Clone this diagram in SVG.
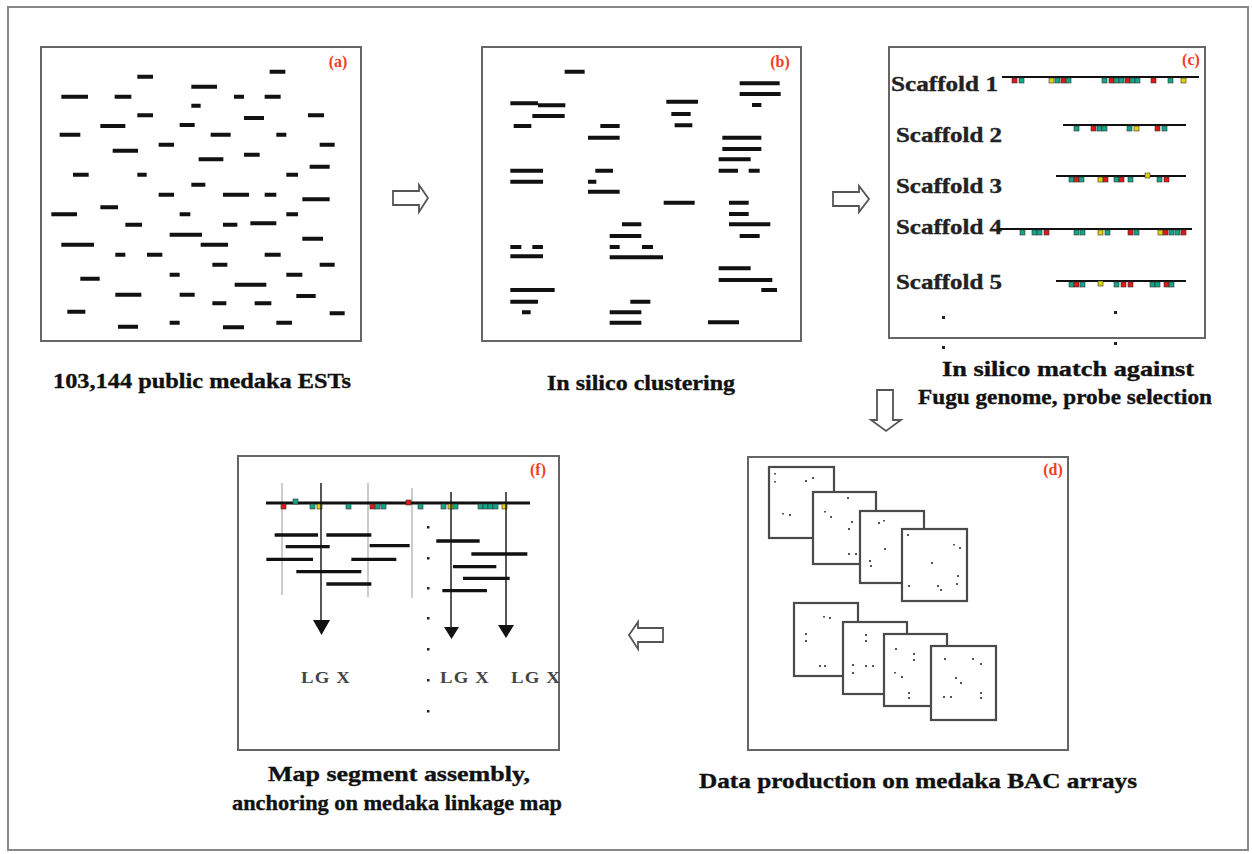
<svg xmlns="http://www.w3.org/2000/svg" xmlns:xlink="http://www.w3.org/1999/xlink" width="1252" height="854" viewBox="0 0 1252 854">
<style>
.frame{fill:#fff;stroke:#666;stroke-width:2}
.sheet{fill:#fff;stroke:#4a4a4a;stroke-width:2.2}
.bars{fill:none;stroke:#111;stroke-linecap:butt}
.lbl{font-family:"Liberation Serif",serif;font-weight:bold;font-size:16px;fill:#f2401e;text-anchor:middle}
.cap{font-family:"Liberation Serif",serif;font-weight:bold;font-size:21px;fill:#111;stroke:#111;stroke-width:0.35;text-anchor:middle}
.sc{font-family:"Liberation Serif",serif;font-weight:bold;font-size:20px;fill:#222;stroke:#222;stroke-width:0.35}
.lg{font-family:"Liberation Serif",serif;font-weight:bold;font-size:16px;fill:#444;text-anchor:middle;letter-spacing:1px}
.bk{fill:#fff;stroke:#555;stroke-width:1.8;stroke-linejoin:miter}
.r{fill:#e01818}.t{fill:#14a488}.y{fill:#e2d20a}
.dot{fill:#222}
.gl{stroke:#aaa;stroke-width:1.2}
</style>
<defs>
<rect id="m" width="5" height="5" stroke="#333" stroke-width="0.6"/>
</defs>
<rect x="0" y="0" width="1252" height="854" fill="#fff"/>
<rect x="8" y="7" width="1240" height="843" fill="none" stroke="#888" stroke-width="2"/>

<g id="panel-a">
<rect class="frame" x="41" y="47" width="320" height="294"/>
<g transform="translate(38,45) scale(0.33333)">
<path class="bars" stroke-width="12" d="M298 95H345M695 80H742M460 125H537M70 155H150M230 155H280M588 155H618M680 155H728M460 182H488M298 211H345M618 219H678M810 211H858M187 243H262M425 240H470M65 269H127M518 269H578M715 269H745M362 299H408M845 299H890M224 317H300M618 329H665M482 343H556M815 365H875M105 389H152M298 389H326M745 389H780M460 419H502M362 449H408M555 449H633M680 449H715M793 463H875M187 487H240M40 508H117M425 508H457M745 508H780M262 539H312M555 539H598M637 535H715M395 569H492M70 599H168M488 599H570M793 581H855M232 629H262M327 629H373M680 629H728M523 659H568M845 659H890M127 701H185M395 689H425M745 689H793M590 719H685M232 749H310M425 749H470M775 753H833M523 775H565M650 775H700M88 800H142M875 805H920M240 845H300M395 833H425M555 847H618M715 833H762"/>
</g>
<text class="lbl" x="338" y="67">(a)</text>
<text class="cap" x="202" y="388" textLength="298" lengthAdjust="spacingAndGlyphs">103,144 public medaka ESTs</text>
</g>

<g id="panel-b">
<rect class="frame" x="482" y="47" width="319" height="294"/>
<g transform="translate(478,45) scale(0.33333)">
<path class="bars" stroke-width="12" d="M260 80H320M785 115H905M785 147H908M822 180H850M97 175H180M180 181H262M163 213H260M107 243H160M565 170H660M580 207H638M590 241H643M367 243H425M330 278H425M733 278H850M733 312H850M722 343H818M722 377H780M812 377H845M97 377H195M97 410H195M352 377H405M330 410H355M330 440H425M557 473H650M753 473H812M753 507H812M753 538H877M785 573H845M432 538H490M395 573H490M97 606H130M163 606H195M97 634H195M395 606H425M492 606H525M395 637H555M722 670H818M722 705H883M850 735H897M97 735H230M97 770H180M132 802H158M457 770H517M395 802H490M395 833H490M690 832H783"/>
</g>
<text class="lbl" x="780" y="67">(b)</text>
<text class="cap" x="641" y="390" textLength="188" lengthAdjust="spacingAndGlyphs">In silico clustering</text>
</g>

<g id="panel-c">
<rect class="frame" x="889" y="47" width="316" height="291"/>
<text class="lbl" x="1191" y="65">(c)</text>
<text class="sc" x="891" y="91" textLength="107" lengthAdjust="spacingAndGlyphs">Scaffold 1</text>
<text class="sc" x="896" y="142" textLength="106" lengthAdjust="spacingAndGlyphs">Scaffold 2</text>
<text class="sc" x="896" y="193" textLength="106" lengthAdjust="spacingAndGlyphs">Scaffold 3</text>
<text class="sc" x="896" y="234" textLength="106" lengthAdjust="spacingAndGlyphs">Scaffold 4</text>
<text class="sc" x="896" y="289" textLength="106" lengthAdjust="spacingAndGlyphs">Scaffold 5</text>
<path stroke="#111" stroke-width="2" d="M1002 77H1199M1063 125H1186M1056 176H1186M998 229H1192M1056 281H1186"/>
<g>
<use href="#m" class="r" x="1012" y="78"/><use href="#m" class="t" x="1019" y="78"/><use href="#m" class="y" x="1049" y="78"/><use href="#m" class="t" x="1055" y="78"/><use href="#m" class="r" x="1061" y="78"/><use href="#m" class="t" x="1066" y="78"/><use href="#m" class="t" x="1102" y="78"/><use href="#m" class="r" x="1109" y="78"/><use href="#m" class="t" x="1114" y="78"/><use href="#m" class="t" x="1119" y="78"/><use href="#m" class="r" x="1125" y="78"/><use href="#m" class="t" x="1130" y="78"/><use href="#m" class="t" x="1135" y="78"/><use href="#m" class="r" x="1151" y="78"/><use href="#m" class="t" x="1168" y="78"/><use href="#m" class="y" x="1181" y="78"/>
<use href="#m" class="t" x="1074" y="126"/><use href="#m" class="r" x="1091" y="126"/><use href="#m" class="t" x="1097" y="126"/><use href="#m" class="t" x="1102" y="126"/><use href="#m" class="t" x="1127" y="126"/><use href="#m" class="y" x="1134" y="126"/><use href="#m" class="r" x="1155" y="126"/><use href="#m" class="t" x="1162" y="126"/>
<use href="#m" class="t" x="1069" y="177"/><use href="#m" class="r" x="1074" y="177"/><use href="#m" class="t" x="1079" y="177"/><use href="#m" class="y" x="1098" y="177"/><use href="#m" class="r" x="1103" y="177"/><use href="#m" class="t" x="1114" y="177"/><use href="#m" class="r" x="1119" y="177"/><use href="#m" class="t" x="1128" y="177"/><use href="#m" class="y" x="1145" y="173"/><use href="#m" class="t" x="1157" y="177"/><use href="#m" class="r" x="1164" y="177"/>
<use href="#m" class="t" x="1020" y="230"/><use href="#m" class="t" x="1032" y="230"/><use href="#m" class="t" x="1037" y="230"/><use href="#m" class="r" x="1044" y="230"/><use href="#m" class="t" x="1074" y="230"/><use href="#m" class="t" x="1080" y="230"/><use href="#m" class="y" x="1098" y="230"/><use href="#m" class="t" x="1105" y="230"/><use href="#m" class="r" x="1128" y="230"/><use href="#m" class="t" x="1134" y="230"/><use href="#m" class="y" x="1158" y="230"/><use href="#m" class="r" x="1163" y="230"/><use href="#m" class="t" x="1169" y="230"/><use href="#m" class="t" x="1175" y="230"/><use href="#m" class="r" x="1181" y="230"/>
<use href="#m" class="t" x="1069" y="282"/><use href="#m" class="r" x="1074" y="282"/><use href="#m" class="t" x="1080" y="282"/><use href="#m" class="y" x="1098" y="281"/><use href="#m" class="t" x="1114" y="282"/><use href="#m" class="r" x="1121" y="282"/><use href="#m" class="r" x="1128" y="282"/><use href="#m" class="t" x="1150" y="282"/><use href="#m" class="t" x="1155" y="282"/><use href="#m" class="r" x="1164" y="282"/><use href="#m" class="t" x="1169" y="282"/>
</g>
<rect class="dot" x="942" y="316" width="3" height="3"/><rect class="dot" x="1114" y="311" width="3" height="3"/>
<rect class="dot" x="942" y="346" width="3" height="3"/><rect class="dot" x="1114" y="342" width="3" height="3"/>
<text class="cap" x="1068" y="376" textLength="252" lengthAdjust="spacingAndGlyphs">In silico match against</text>
<text class="cap" x="1065" y="404" textLength="294" lengthAdjust="spacingAndGlyphs">Fugu genome, probe selection</text>
</g>

<g id="panel-d">
<rect class="frame" x="748" y="457" width="320" height="293"/>
<text class="lbl" x="1053" y="475">(d)</text>
<g>
<rect class="sheet" x="769" y="467" width="65" height="71"/>
<rect class="sheet" x="813" y="492" width="63" height="72"/>
<rect class="sheet" x="860" y="511" width="64" height="72"/>
<rect class="sheet" x="902" y="529" width="65" height="72"/>
<rect class="sheet" x="794" y="603" width="64" height="73"/>
<rect class="sheet" x="843" y="622" width="64" height="72"/>
<rect class="sheet" x="884" y="634" width="63" height="72"/>
<rect class="sheet" x="931" y="646" width="65" height="74"/>
</g>
<g fill="#555">
<rect x="774" y="473" width="2" height="1.5"/><rect x="774" y="481" width="2" height="1.5"/><rect x="805" y="480" width="2" height="2"/><rect x="812" y="477" width="2" height="2"/><rect x="782" y="513" width="2" height="1.5"/><rect x="789" y="514" width="2" height="2"/>
<rect x="847" y="497" width="2" height="2"/><rect x="824" y="511" width="2" height="1.5"/><rect x="830" y="516" width="2" height="2"/><rect x="851" y="521" width="2" height="2"/><rect x="848" y="528" width="2" height="2"/><rect x="848" y="553" width="2" height="2"/><rect x="855" y="553" width="2" height="2"/>
<rect x="878" y="522" width="2" height="2"/><rect x="883" y="520" width="2" height="1.5"/><rect x="884" y="548" width="2" height="2"/><rect x="869" y="560" width="2" height="2"/><rect x="870" y="565" width="2" height="2"/>
<rect x="907" y="534" width="2" height="2"/><rect x="953" y="544" width="2" height="1.5"/><rect x="959" y="547" width="2" height="2"/><rect x="931" y="562" width="2" height="2"/><rect x="957" y="575" width="2" height="2"/><rect x="956" y="583" width="2" height="2"/><rect x="908" y="585" width="2" height="2"/><rect x="937" y="585" width="2" height="2"/><rect x="940" y="589" width="2" height="2"/>
<rect x="823" y="616" width="2" height="1.5"/><rect x="829" y="617" width="2" height="2"/><rect x="805" y="633" width="2" height="2"/><rect x="805" y="640" width="2" height="2"/><rect x="819" y="665" width="2" height="2"/><rect x="824" y="665" width="2" height="2"/>
<rect x="865" y="634" width="2" height="2"/><rect x="865" y="640" width="2" height="2"/><rect x="852" y="664" width="2" height="2"/><rect x="852" y="672" width="2" height="2"/><rect x="865" y="665" width="2" height="2"/><rect x="872" y="665" width="2" height="2"/>
<rect x="895" y="648" width="2" height="2"/><rect x="913" y="653" width="2" height="2"/><rect x="913" y="659" width="2" height="2"/><rect x="894" y="672" width="2" height="1.5"/><rect x="901" y="676" width="2" height="2"/><rect x="908" y="692" width="2" height="2"/><rect x="908" y="697" width="2" height="2"/>
<rect x="944" y="658" width="2" height="2"/><rect x="972" y="658" width="2" height="2"/><rect x="980" y="663" width="2" height="2"/><rect x="955" y="677" width="2" height="2"/><rect x="960" y="682" width="2" height="2"/><rect x="943" y="696" width="2" height="2"/><rect x="950" y="696" width="2" height="2"/><rect x="980" y="692" width="2" height="2"/><rect x="980" y="697" width="2" height="2"/>
</g>
<text class="cap" x="918" y="788" textLength="438" lengthAdjust="spacingAndGlyphs">Data production on medaka BAC arrays</text>
</g>

<g id="panel-f">
<rect class="frame" x="238" y="456" width="321" height="294"/>
<text class="lbl" x="538" y="475">(f)</text>
<path class="gl" d="M282 483V595M368 483V597M412 488V598"/>
<g transform="translate(233,455) scale(0.33333)">
<path class="bars" stroke-width="10" d="M125 240H255M280 240H415M158 275H290M410 272H530M100 313H240M355 313H490M190 350H385M280 387H415M610 258H740M715 297H883M660 335H790M690 370H830M628 407H762"/>
</g>
<path stroke="#111" stroke-width="3" d="M266 503H530"/>
<g>
<use href="#m" class="r" x="281" y="504"/><use href="#m" class="t" x="293" y="499"/><use href="#m" class="t" x="310" y="504"/><use href="#m" class="y" x="317" y="504"/><use href="#m" class="t" x="346" y="504"/><use href="#m" class="r" x="370" y="504"/><use href="#m" class="t" x="375" y="504"/><use href="#m" class="t" x="381" y="504"/><use href="#m" class="r" x="406" y="500"/><use href="#m" class="t" x="418" y="504"/><use href="#m" class="t" x="441" y="504"/><use href="#m" class="y" x="448" y="504"/><use href="#m" class="t" x="453" y="504"/><use href="#m" class="t" x="478" y="504"/><use href="#m" class="t" x="483" y="504"/><use href="#m" class="t" x="488" y="504"/><use href="#m" class="t" x="493" y="504"/><use href="#m" class="y" x="502" y="504"/>
</g>
<g stroke="#111" stroke-width="1.4">
<path d="M321 483V621M451 492V628M506 492V626"/>
</g>
<g fill="#111">
<path d="M313 620H330L321.5 635Z"/>
<path d="M444 627H459L451.5 639Z"/>
<path d="M498 625H514L506 638Z"/>
</g>
<g class="dot">
<rect x="427" y="526" width="2.5" height="2.5"/><rect x="427" y="557" width="2.5" height="2.5"/><rect x="427" y="587" width="2.5" height="2.5"/><rect x="427" y="617" width="2.5" height="2.5"/><rect x="427" y="648" width="2.5" height="2.5"/><rect x="427" y="679" width="2.5" height="2.5"/><rect x="427" y="710" width="2.5" height="2.5"/>
</g>
<text class="lg" x="326" y="683" textLength="50" lengthAdjust="spacingAndGlyphs">LG X</text>
<text class="lg" x="465" y="683" textLength="50" lengthAdjust="spacingAndGlyphs">LG X</text>
<text class="lg" x="536" y="683" textLength="50" lengthAdjust="spacingAndGlyphs">LG X</text>
<text class="cap" x="399" y="781" textLength="262" lengthAdjust="spacingAndGlyphs">Map segment assembly,</text>
<text class="cap" x="397" y="810" textLength="330" lengthAdjust="spacingAndGlyphs">anchoring on medaka linkage map</text>
</g>

<g id="connectors">
<path class="bk" d="M393 191H419V185L428 198L419 212V205H393Z"/>
<path class="bk" d="M833 192H859V186L869 199L859 212V206H833Z"/>
<path class="bk" d="M877 390V420H871L886 431L901 420H893V390Z"/>
<path class="bk" d="M663 628H638V622L629 635L638 649V642H663Z"/>
</g>
</svg>
